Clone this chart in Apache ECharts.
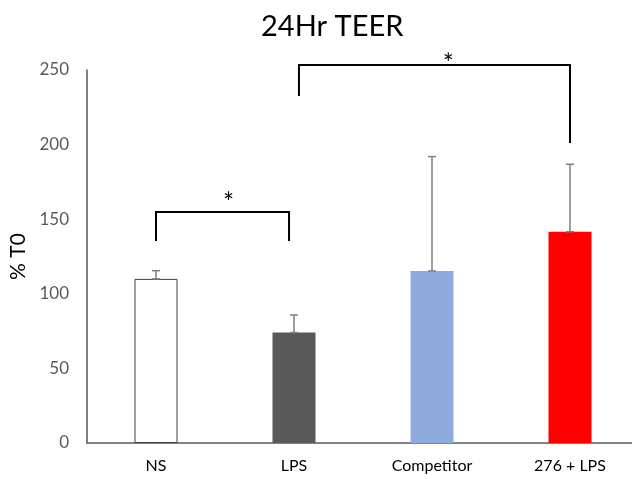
<!DOCTYPE html>
<html><head><meta charset="utf-8">
<script src="https://cdn.jsdelivr.net/npm/echarts@6/dist/echarts.min.js"></script>
<style>html,body{margin:0;padding:0;background:#fff}#c{width:632px;height:479px}</style>
</head><body><div id="c"></div>
<script>
var categories = ['NS', 'LPS', 'Competitor', '276 + LPS'];
var means = [110, 74, 115.3, 141.6];
var errors = [5.5, 11.8, 76.7, 45.2];
var barColors = ['#ffffff', '#595959', '#8faadc', '#ff0000'];
var yTicks = [0, 50, 100, 150, 200, 250];
// brackets: [xStart, xEnd, yTop, yLeftBottom, yRightBottom, starX, starY] (x in category units)
var brackets = [[0, 0.964, 154.8, 135.4, 135.4, 0.526, 166], [1.036, 3, 253.4, 232.6, 201, 2.118, 258.7]];
var starText = '*';

var chart = echarts.init(document.getElementById('c'));
var FONT = 'Lato';
function pt(api, xv, yv) {
  var i = Math.round(xv);
  var p = api.coord([i, yv]);
  var band = api.size([1, 0])[0];
  return [p[0] + (xv - i) * band, p[1]];
}
chart.setOption({
  animation: false,
  title: {text: '24Hr TEER', left: 256, top: 7,
    textStyle: {fontFamily: FONT, fontSize: 29, fontWeight: 'normal', color: '#000'}},
  grid: {left: 87, top: 70, width: 552, height: 373, containLabel: false, outerBoundsMode: 'none'},
  xAxis: {type: 'category', data: categories,
    axisLine: {lineStyle: {color: '#595959', width: 1.5}},
    axisTick: {show: false},
    axisLabel: {fontFamily: FONT, fontSize: 16, color: '#000', margin: 15}},
  yAxis: {type: 'value', min: 0, max: 250, interval: 50,
    name: '% T0', nameLocation: 'middle', nameGap: 56, nameRotate: 90,
    nameTextStyle: {fontFamily: FONT, fontSize: 21, color: '#000'},
    axisLine: {show: true, lineStyle: {color: '#595959', width: 1.5}},
    axisTick: {show: false}, splitLine: {show: false},
    axisLabel: {fontFamily: FONT, fontSize: 17, color: '#595959', margin: 18,
      formatter: function (v) { return yTicks.indexOf(v) >= 0 ? String(v) : ''; }}},
  series: [
    {type: 'bar', barWidth: 43,
      data: means.map(function (v, i) {
        return {value: v, itemStyle: {color: barColors[i],
          borderColor: i === 0 ? '#404040' : barColors[i], borderWidth: i === 0 ? 1 : 0}};
      })},
    {type: 'custom', z: 5,
      data: means.map(function (v, i) { return [i, v, v + errors[i]]; }),
      renderItem: function (params, api) {
        var lo = api.coord([api.value(0), api.value(1)]);
        var hi = api.coord([api.value(0), api.value(2)]);
        var w = 4;
        var st = {stroke: '#7f7f7f', lineWidth: 1.5};
        return {type: 'group', children: [
          {type: 'line', shape: {x1: lo[0], y1: lo[1], x2: hi[0], y2: hi[1]}, style: st},
          {type: 'line', shape: {x1: hi[0] - w, y1: hi[1], x2: hi[0] + w, y2: hi[1]}, style: st},
          {type: 'line', shape: {x1: lo[0] - w, y1: lo[1], x2: lo[0] + w, y2: lo[1]}, style: st}
        ]};
      }},
    {type: 'custom', z: 6, clip: false,
      data: brackets.map(function (b, i) { return [i].concat(b); }),
      renderItem: function (params, api) {
        var b = brackets[params.dataIndex];
        var a = pt(api, b[0], b[2]);
        var c = pt(api, b[1], b[2]);
        var al = pt(api, b[0], b[3]);
        var cr = pt(api, b[1], b[4]);
        var s = pt(api, b[5], b[6]);
        return {type: 'group', children: [
          {type: 'polyline', shape: {points: [al, a, c, cr]},
            style: {stroke: '#000', lineWidth: 2, fill: null}},
          {type: 'text', style: {text: starText, x: s[0], y: s[1] + 8,
            align: 'center', verticalAlign: 'middle', fontFamily: FONT, fontSize: 26,
            fontWeight: 'normal', fill: '#000'}}
        ]};
      }}
  ]
});
</script></body></html>
